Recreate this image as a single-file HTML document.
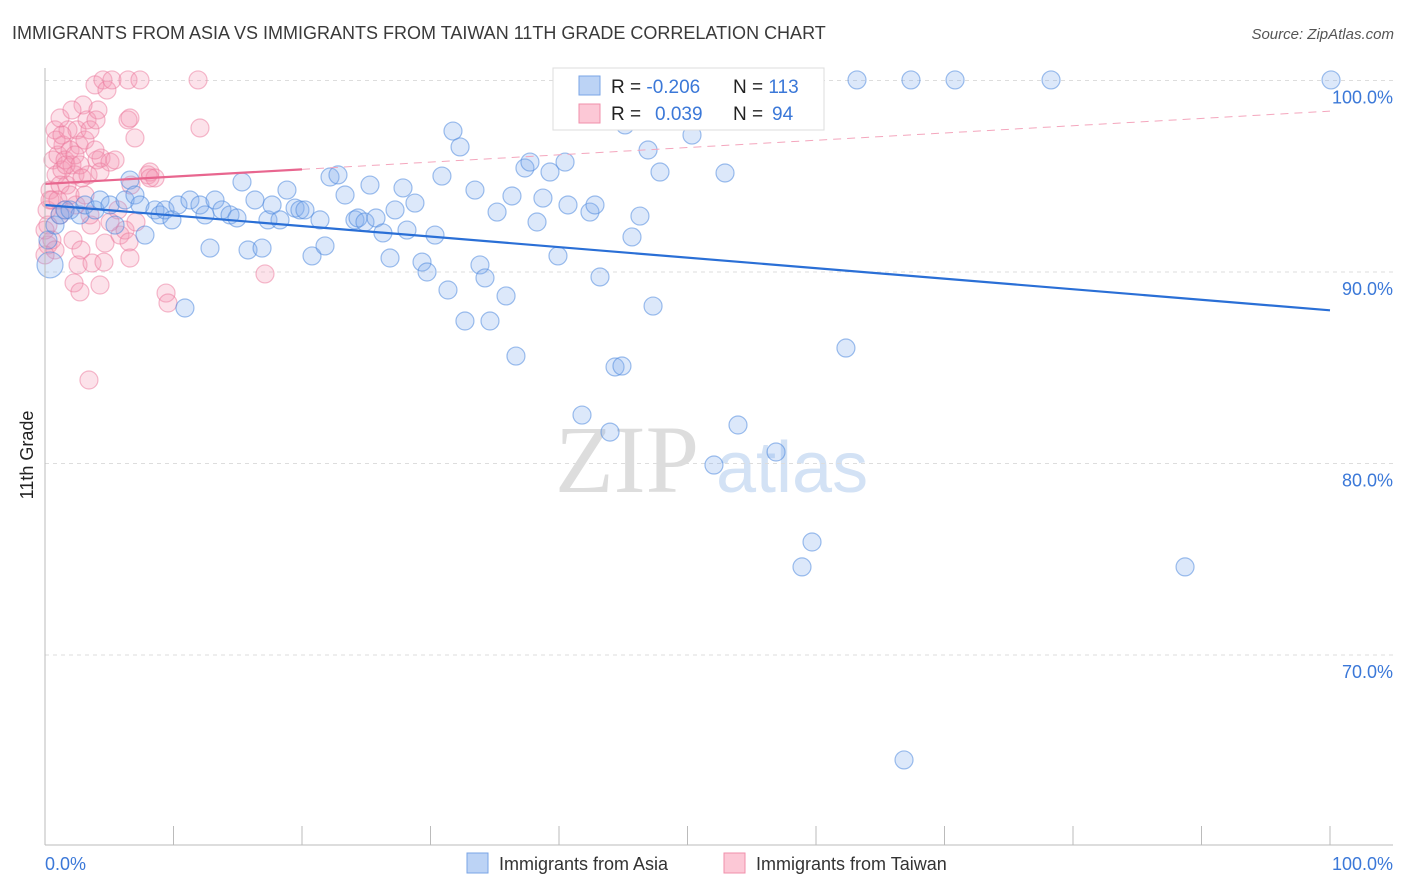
<!DOCTYPE html>
<html><head><meta charset="utf-8"><style>
body{margin:0;background:#fff;font-family:"Liberation Sans",sans-serif;}
#wrap{position:relative;width:1406px;height:892px;overflow:hidden}
</style></head><body>
<div id="wrap">
<svg id="svg" width="1406" height="892" xmlns="http://www.w3.org/2000/svg" font-family="Liberation Sans, sans-serif">
<text x="12" y="39" font-size="18" fill="#3a3a3a">IMMIGRANTS FROM ASIA VS IMMIGRANTS FROM TAIWAN 11TH GRADE CORRELATION CHART</text>
<text x="1394" y="39" font-size="15" fill="#555" font-style="italic" text-anchor="end">Source: ZipAtlas.com</text>
<text x="33" y="455" font-size="18" fill="#222" transform="rotate(-90 33 455)" text-anchor="middle">11th Grade</text>
<text x="555" y="492" font-size="96" fill="#ddd" font-family="Liberation Serif, serif">ZIP</text>
<text x="716" y="492" font-size="72" fill="#d3e2f5">atlas</text>
<g id="grid"></g><g id="marks"></g><g id="lines"></g>
<line x1="45" y1="68" x2="45" y2="845" stroke="#bbb"/>
<line x1="45" y1="845" x2="1393" y2="845" stroke="#bbb"/>
<text x="45" y="870" font-size="18" fill="#3b78d8">0.0%</text>
<text x="1393" y="870" font-size="18" fill="#3b78d8" text-anchor="end">100.0%</text>
<g>
<rect x="553" y="68" width="271" height="62" fill="#fff" stroke="#ddd"/>
<rect x="579" y="76" width="21" height="19" fill="#bcd3f5" stroke="#7aa5e6"/>
<rect x="579" y="104" width="21" height="19" fill="#fcc8d6" stroke="#f08fab"/>
<text x="611" y="93" font-size="19" fill="#222">R = <tspan fill="#3b78d8">-0.206</tspan></text>
<text x="733" y="93" font-size="19" fill="#222">N = <tspan fill="#3b78d8">113</tspan></text>
<text x="611" y="120" font-size="19" fill="#222">R = <tspan fill="#3b78d8" x="655">0.039</tspan></text>
<text x="733" y="120" font-size="19" fill="#222">N = <tspan fill="#3b78d8" x="772">94</tspan></text>
</g>
<g>
<rect x="467" y="853" width="21" height="20" fill="#bcd3f5" stroke="#7aa5e6"/>
<text x="499" y="870" font-size="18" fill="#333">Immigrants from Asia</text>
<rect x="724" y="853" width="21" height="20" fill="#fcc8d6" stroke="#f08fab"/>
<text x="756" y="870" font-size="18" fill="#333">Immigrants from Taiwan</text>
</g>
</svg>
</div>
<script>
const yTicks=[100,90,80,70];
const yTickLabels=["100.0%","90.0%","80.0%","70.0%"];
const xTicks=[0,10,20,30,40,50,60,70,80,90,100];
const asiaPx=[[50,265],[48,240],[55,225],[60,215],[65,210],[70,210],[80,215],[85,205],[95,210],[100,200],[110,205],[115,225],[125,200],[130,180],[135,195],[140,205],[145,235],[155,210],[160,215],[165,210],[172,220],[178,205],[185,308],[190,200],[200,205],[205,215],[210,248],[215,200],[222,210],[230,215],[237,218],[242,182],[248,250],[255,200],[262,248],[268,220],[272,205],[280,220],[287,190],[295,208],[300,210],[305,210],[312,256],[320,220],[325,246],[330,177],[338,175],[345,195],[355,220],[358,218],[365,222],[370,185],[376,218],[383,233],[390,258],[395,210],[403,188],[407,230],[415,203],[422,262],[427,272],[435,235],[442,176],[448,290],[453,131],[460,147],[465,321],[475,190],[480,265],[485,278],[490,321],[497,212],[506,296],[512,196],[516,356],[525,168],[530,162],[537,222],[543,198],[550,172],[558,256],[565,162],[568,205],[582,415],[590,212],[595,205],[600,277],[610,432],[615,367],[622,366],[625,125],[632,237],[640,216],[648,150],[653,306],[660,172],[692,135],[714,465],[718,118],[725,173],[731,80],[738,425],[776,452],[802,567],[812,542],[846,348],[857,80],[904,760],[911,80],[955,80],[1051,80],[1185,567],[1331,80]];
const taiwanPx=[[47,210],[48,245],[50,190],[52,200],[53,160],[55,130],[56,175],[58,155],[60,215],[62,170],[63,145],[65,160],[67,185],[68,130],[70,150],[72,165],[73,240],[74,283],[75,175],[76,205],[77,130],[78,265],[79,145],[80,292],[81,250],[83,105],[85,140],[87,120],[88,175],[89,380],[90,130],[91,225],[92,263],[95,85],[97,160],[98,110],[100,285],[101,158],[103,80],[104,262],[105,243],[107,90],[110,162],[112,80],[115,160],[118,210],[120,235],[125,230],[128,120],[129,242],[130,258],[131,185],[135,138],[136,222],[128,80],[140,80],[148,175],[150,172],[155,178],[166,293],[168,303],[198,80],[200,128],[265,274],[52,240],[55,250],[60,185],[65,210],[48,225],[50,200],[58,200],[70,195],[85,195],[90,215],[56,140],[62,135],[66,165],[75,155],[80,165],[95,150],[100,172],[110,222],[45,230],[45,255],[82,178],[60,118],[72,110],[96,120],[130,118],[150,178]];
const asiaX=asiaPx.map(p=>+((p[0]-45)/12.85).toFixed(2));
const asiaY=asiaPx.map(p=>+(100-(p[1]-80.5)/19.15).toFixed(2));
const taiwanX=taiwanPx.map(p=>+((p[0]-45)/12.85).toFixed(2));
const taiwanY=taiwanPx.map(p=>+(100-(p[1]-80.5)/19.15).toFixed(2));
const asiaTrend=[93.5,88.0];
const taiwanTrend=[94.6,98.4];
const NS="http://www.w3.org/2000/svg";
const X=v=>45+v*12.85, Y=v=>80.5+(100-v)*19.15;
function mk(t,a,p){const e=document.createElementNS(NS,t);for(const k in a)e.setAttribute(k,a[k]);p.appendChild(e);return e;}
const grid=document.getElementById('grid'),marks=document.getElementById('marks'),lines=document.getElementById('lines');
yTicks.forEach((v,i)=>{
 const l=mk('line',{x1:45,x2:1393,y1:Y(v),y2:Y(v),stroke:'#ddd','stroke-dasharray':'4,4'},grid);
 
 
 const t=mk('text',{x:1393,y:Y(v)+23,'font-size':18,fill:'#3b78d8','text-anchor':'end'},grid);
 t.textContent=yTickLabels[i];
 
 
});
xTicks.forEach(v=>{
 const l=mk('line',{x1:X(v),x2:X(v),y1:826,y2:845,stroke:'#bbb'},grid);
 
 
});
taiwanX.forEach((x,i)=>{
 const c=mk('circle',{cx:X(x),cy:Y(taiwanY[i]),r:9,fill:'rgba(244,150,178,0.28)',stroke:'rgba(236,120,156,0.5)','stroke-width':1.2},marks);
 
 
});
asiaX.forEach((x,i)=>{
 const c=mk('circle',{cx:X(x),cy:Y(asiaY[i]),r:i==0?13:9,fill:'rgba(130,172,238,0.28)',stroke:'rgba(80,138,222,0.55)','stroke-width':1.2},marks);
 
 
});
let l=mk('line',{x1:X(0),y1:Y(asiaTrend[0]),x2:X(100),y2:Y(asiaTrend[1]),stroke:'#2a6fd6','stroke-width':2.2},lines);


const tm=(taiwanTrend[1]-taiwanTrend[0]);
l=mk('line',{x1:X(20),y1:Y(taiwanTrend[0]+tm*0.2),x2:X(100),y2:Y(taiwanTrend[1]),stroke:'#f4a6bd','stroke-width':1,'stroke-dasharray':'8,6'},lines);


l=mk('line',{x1:X(0),y1:Y(taiwanTrend[0]),x2:X(20),y2:Y(taiwanTrend[0]+tm*0.2),stroke:'#e8668f','stroke-width':2.2},lines);


</script>
</body></html>
